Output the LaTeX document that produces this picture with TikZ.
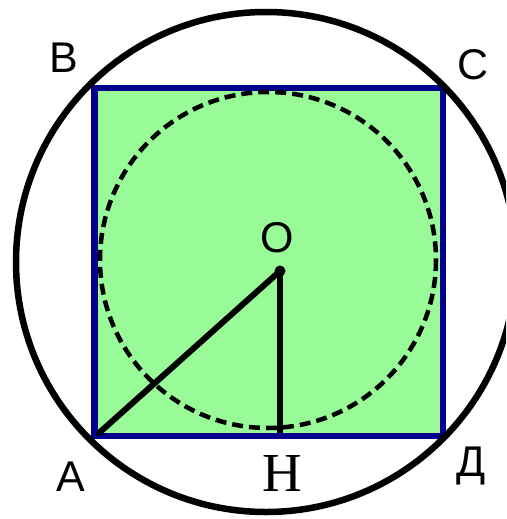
\documentclass[tikz,border=0pt]{standalone}
\usepackage{fontspec}
\setmainfont{Liberation Sans}
\newfontfamily\serifletter{Liberation Serif}
\definecolor{squarefill}{RGB}{152,251,152}
\definecolor{squareedge}{RGB}{0,0,140}
\begin{document}
\begin{tikzpicture}[x=1pt, y=-1pt,
  letter/.style={inner sep=0pt, anchor=base, font=\fontsize{43}{43}\selectfont},
  serifletterstyle/.style={inner sep=0pt, anchor=base, font=\serifletter\fontsize{55}{55}\selectfont}]
% Frame of the picture (pixels of the reference)
\useasboundingbox (0,0) rectangle (506,519);
\clip (0,0) rectangle (506,519);
% Points
\coordinate (A) at (99,433);
\coordinate (O) at (280,271);
\coordinate (H) at (280,433);
% Square with fill
\filldraw[fill=squarefill, draw=squareedge, line width=6.5pt] (94.5,88) rectangle (443,436);
% Inscribed circle (dashed)
\draw[dash pattern=on 11pt off 6pt, line width=4.5pt] (268,260) circle [radius=168];
% Circumscribed circle
\draw[line width=6.5pt] (266,262) circle [radius=250];
% Segments
\draw[line width=6pt, line cap=round] (A) -- (O);
\draw[line width=6pt] (O) -- (H);
\fill (O) circle [radius=5.5];
% Labels
\node[letter] (lB) at (64,73) {В};
\node[letter] (lC) at (473.5,79) {С};
\node[letter] (lO) at (277.5,252) {О};
\node[letter] (lA) at (71,491) {А};
\node[letter] (lD) at (471.5,476) {Д};
\node[serifletterstyle] (lH) at (282.5,491) {Н};
\end{tikzpicture}
\end{document}
